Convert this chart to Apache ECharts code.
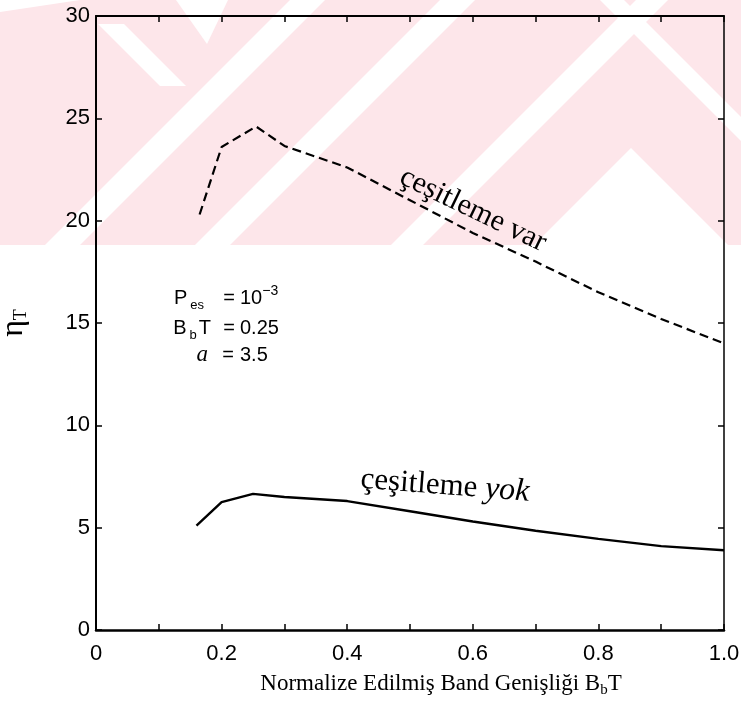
<!DOCTYPE html>
<html>
<head>
<meta charset="utf-8">
<script src="https://cdn.jsdelivr.net/npm/echarts@6/dist/echarts.min.js"></script>
<style>
html,body{margin:0;padding:0;background:#fff;}
#chart{width:741px;height:723px;}
</style>
</head>
<body>
<div id="chart"></div>
<script>
// ---- data ----
const xTickLabels = ['0', '0.2', '0.4', '0.6', '0.8', '1.0'];
const yTickLabels = ['0', '5', '10', '15', '20', '25', '30'];

const varX = [0.165, 0.2, 0.255, 0.3, 0.4, 0.5, 0.6, 0.7, 0.8, 0.9, 1.0];
const varY = [20.3, 23.6, 24.6, 23.65, 22.6, 21.0, 19.4, 18.0, 16.5, 15.2, 14.0];

const yokX = [0.16, 0.2, 0.25, 0.3, 0.4, 0.5, 0.6, 0.7, 0.8, 0.9, 1.0];
const yokY = [5.1, 6.25, 6.65, 6.5, 6.3, 5.8, 5.3, 4.85, 4.45, 4.1, 3.9];

const seriesNames = ['çeşitleme var', 'çeşitleme yok'];

// ---- chart ----
const chart = echarts.init(document.getElementById('chart'), null, {renderer: 'canvas'});

const sans = 'Liberation Sans';
const serif = 'Liberation Serif';
const pink = '#fde6ea';

function zip(xs, ys) { return xs.map((x, i) => [x, ys[i]]); }

const tickCommon = {show: true, inside: true, length: 6, lineStyle: {color: '#000', width: 1.5}};

const annRich = {
  t: {fontFamily: sans, fontSize: 20, fill: '#000', lineHeight: 28},
  s: {fontFamily: sans, fontSize: 13, fill: '#000', lineHeight: 28, verticalAlign: 'bottom', padding: [0, 2, 0, 3]},
  p: {fontFamily: sans, fontSize: 14, fill: '#000', lineHeight: 28, verticalAlign: 'top'},
  i: {fontFamily: serif, fontStyle: 'italic', fontSize: 23, fill: '#000', lineHeight: 28}
};
function annText(x, y, text, align) {
  return {type: 'text', z: 100, silent: true, x: x, y: y,
    style: {text: text, textAlign: align, textVerticalAlign: 'middle', fill: '#000', rich: annRich}};
}

const option = {
  backgroundColor: '#fff',
  animation: false,
  grid: {left: 96, right: 17, top: 16, bottom: 93, containLabel: false, outerBoundsMode: 'none'},
  xAxis: [{
    type: 'value', min: 0, max: 1, interval: 0.2, position: 'bottom',
    axisLine: {show: true, onZero: false, lineStyle: {color: '#000', width: 2.5}},
    axisTick: tickCommon,
    minorTick: {show: true, splitNumber: 2, length: 6, lineStyle: {color: '#000', width: 1.5}},
    splitLine: {show: false},
    axisLabel: {
      margin: 13, color: '#000', fontFamily: sans, fontSize: 22,
      formatter: v => xTickLabels[Math.round(v / 0.2)]
    }
  }, {
    type: 'value', min: 0, max: 1, interval: 0.2, position: 'top',
    axisLine: {show: true, onZero: false, lineStyle: {color: '#000', width: 2}},
    axisTick: tickCommon,
    minorTick: {show: true, splitNumber: 2, length: 6, lineStyle: {color: '#000', width: 1.5}},
    splitLine: {show: false},
    axisLabel: {show: false}
  }],
  yAxis: [{
    type: 'value', min: 0, max: 30, interval: 5, position: 'left',
    axisLine: {show: true, onZero: false, lineStyle: {color: '#000', width: 2}},
    axisTick: tickCommon,
    splitLine: {show: false},
    axisLabel: {
      margin: 6, color: '#000', fontFamily: sans, fontSize: 22,
      formatter: v => yTickLabels[Math.round(v / 5)]
    },
    name: '{e|η}{t|T}',
    nameLocation: 'middle',
    nameGap: 66,
    nameRotate: 90,
    nameTextStyle: {
      color: '#000',
      rich: {
        e: {fontFamily: serif, fontSize: 32, color: '#000', lineHeight: 32},
        t: {fontFamily: serif, fontSize: 18, color: '#000', lineHeight: 32, verticalAlign: 'bottom', padding: [10, 0, 0, 0]}
      }
    }
  }, {
    type: 'value', min: 0, max: 30, interval: 5, position: 'right',
    axisLine: {show: true, onZero: false, lineStyle: {color: '#000', width: 1.5}},
    axisTick: tickCommon,
    splitLine: {show: false},
    axisLabel: {show: false}
  }],
  series: [{
    name: seriesNames[0], type: 'line', xAxisIndex: 0, yAxisIndex: 0,
    data: zip(varX, varY), showSymbol: false, symbol: 'none', z: 5,
    lineStyle: {color: '#000', width: 2.2, type: [9, 5]}
  }, {
    name: seriesNames[1], type: 'line', xAxisIndex: 0, yAxisIndex: 0,
    data: zip(yokX, yokY), showSymbol: false, symbol: 'none', z: 5,
    lineStyle: {color: '#000', width: 2.4, type: 'solid'}
  }],
  graphic: [
    // watermark band
    {type: 'rect', z: -30, silent: true, shape: {x: 0, y: 0, width: 741, height: 245}, style: {fill: pink}},
    // white gaps of the watermark pattern
    {type: 'polygon', z: -29, silent: true, shape: {points: [[176,0],[228,0],[207,44]]}, style: {fill: '#fff'}},
    {type: 'polygon', z: -29, silent: true, shape: {points: [[98,24],[124,24],[186,86],[160,86]]}, style: {fill: '#fff'}},
    {type: 'polygon', z: -29, silent: true, shape: {points: [[0,0],[80,0],[0,12]]}, style: {fill: '#fff'}},
    {type: 'polygon', z: -29, silent: true, shape: {points: [[290,0],[325,0],[80,245],[45,245]]}, style: {fill: '#fff'}},
    {type: 'polygon', z: -29, silent: true, shape: {points: [[440,0],[475,0],[230,245],[195,245]]}, style: {fill: '#fff'}},
    {type: 'polygon', z: -29, silent: true, shape: {points: [[636,0],[668,0],[423,245],[391,245]]}, style: {fill: '#fff'}},
    {type: 'polygon', z: -29, silent: true, shape: {points: [[600,0],[624,0],[741,117],[741,141]]}, style: {fill: '#fff'}},
    {type: 'polygon', z: -29, silent: true, shape: {points: [[631,148],[728,245],[534,245]]}, style: {fill: '#fff'}},
    // annotations (left part, equals sign, right part)
    annText(206, 298, '{t|P}{s|es}', 'right'),
    annText(229, 298, '{t|=}', 'center'),
    annText(240, 298, '{t|10}{p|−3}', 'left'),
    annText(211, 328, '{t|B}{s|b}{t|T}', 'right'),
    annText(229, 328, '{t|=}', 'center'),
    annText(240, 328, '{t|0.25}', 'left'),
    annText(208, 355, '{i|a}', 'right'),
    annText(228, 355, '{t|=}', 'center'),
    annText(240, 355, '{t|3.5}', 'left'),
    // curve labels
    {type: 'text', z: 100, silent: true, x: 473, y: 210, rotation: -0.45,
      style: {text: seriesNames[0], font: '30px "Liberation Serif"', fill: '#000', textAlign: 'center', textVerticalAlign: 'middle'}},
    {type: 'text', z: 100, silent: true, x: 445, y: 486, rotation: -0.075,
      style: {text: '{n|çeşitleme }{i|yok}', textAlign: 'center', textVerticalAlign: 'middle', fill: '#000',
        rich: {
          n: {fontFamily: serif, fontSize: 31, fill: '#000'},
          i: {fontFamily: serif, fontStyle: 'italic', fontSize: 32, fill: '#000'}
        }}},
    // x-axis title
    {type: 'text', z: 100, silent: true, x: 441, y: 684,
      style: {text: '{n|Normalize Edilmiş Band Genişliği B}{s|b}{n|T}', textAlign: 'center', textVerticalAlign: 'middle', fill: '#000',
        rich: {
          n: {fontFamily: serif, fontSize: 23, fill: '#000', lineHeight: 28},
          s: {fontFamily: serif, fontSize: 15, fill: '#000', lineHeight: 28, verticalAlign: 'bottom'}
        }}}
  ]
};

chart.setOption(option);
</script>
</body>
</html>
